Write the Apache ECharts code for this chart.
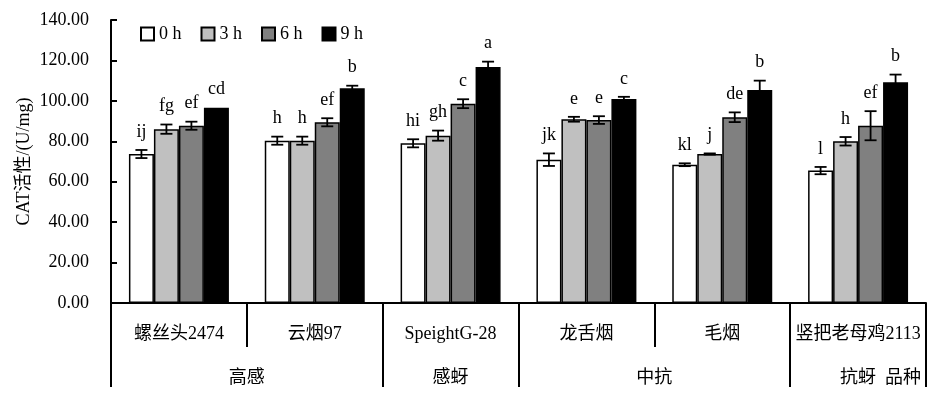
<!DOCTYPE html>
<html>
<head>
<meta charset="utf-8">
<script src="https://cdn.jsdelivr.net/npm/echarts@6/dist/echarts.min.js"></script>
<style>
  html, body { margin: 0; padding: 0; background: #fff; }
  #chart { width: 936px; height: 399px; }
</style>
</head>
<body>
<div id="chart"></div>
<script>
var categories = ['螺丝头2474', '云烟97', 'SpeightG-28', '龙舌烟', '毛烟', '竖把老母鸡2113']
var groupNames = ['高感', '感蚜', '中抗', '抗蚜', '品种']
var groupPos = [1, 2.5, 4, 5.5, 5.83]
var seriesNames = ['0 h', '3 h', '6 h', '9 h']
var yTicks = [0, 140, 20]

var h0 = [73.7, 80.3, 79.0, 70.9, 68.4, 65.5]
var h3 = [86.0, 80.3, 82.8, 90.9, 73.7, 80.0]
var h6 = [87.7, 89.4, 98.6, 90.5, 91.9, 87.7]
var h9 = [96.6, 106.2, 116.8, 100.9, 105.4, 109.2]

var err0 = [2.0, 2.0, 2.0, 3.1, 0.7, 1.8]
var err3 = [2.3, 2.0, 2.5, 1.2, 0.3, 2.1]
var err6 = [2.0, 2.0, 2.2, 1.9, 2.4, 7.2]
var err9 = [0, 1.3, 2.6, 1.1, 4.6, 3.8]

var letters0 = ['ij', 'h', 'hi', 'jk', 'kl', 'l']
var letters3 = ['fg', 'h', 'gh', 'e', 'j', 'h']
var letters6 = ['ef', 'ef', 'c', 'e', 'de', 'ef']
var letters9 = ['cd', 'b', 'a', 'c', 'b', 'b']

var values = [h0, h3, h6, h9]
var errors = [err0, err3, err6, err9]
var letters = [letters0, letters3, letters6, letters9]
var fills = ['#ffffff', '#c0c0c0', '#808080', '#000000']

var SERIF = '"Times New Roman", "Liberation Serif", "Noto Sans CJK SC", serif'
var BAR_FRAC = 0.184

var chart = echarts.init(document.getElementById('chart'))

var series = []
seriesNames.forEach(function (name, i) {
  series.push({
    name: name,
    type: 'bar',
    barWidth: (BAR_FRAC * 100) + '%',
    barGap: '0%',
    itemStyle: { color: fills[i], borderColor: '#000', borderWidth: 1.5 },
    data: values[i]
  })
})
seriesNames.forEach(function (name, i) {
  series.push({
    name: 'err' + i,
    type: 'custom',
    z: 5,
    data: values[i].map(function (v, k) { return [k, v, errors[i][k]] }),
    renderItem: function (params, api) {
      var x = api.value(0)
      var v = api.value(1)
      var e = api.value(2)
      var band = api.size([1, 0])[0]
      var off = (i - 1.5) * band * BAR_FRAC
      var top = api.coord([x, v + e])
      var bot = api.coord([x, v - e])
      var cx = top[0] + off
      var style = { stroke: '#000', lineWidth: 1.8 }
      var kids = []
      if (e > 0) {
        kids.push(
          { type: 'line', shape: { x1: cx, y1: top[1], x2: cx, y2: bot[1] }, style: style },
          { type: 'line', shape: { x1: cx - 6, y1: top[1], x2: cx + 6, y2: top[1] }, style: style },
          { type: 'line', shape: { x1: cx - 6, y1: bot[1], x2: cx + 6, y2: bot[1] }, style: style }
        )
      }
      kids.push({
        type: 'text',
        style: {
          x: cx, y: top[1] - 9,
          text: letters[i][params.dataIndex],
          align: 'center', verticalAlign: 'bottom',
          font: '18px ' + SERIF, fill: '#000'
        }
      })
      return { type: 'group', children: kids }
    }
  })
})

chart.setOption({
  animation: false,
  grid: { left: 111, right: 10, top: 20, bottom: 96, containLabel: false, outerBoundsMode: 'none' },
  legend: {
    data: seriesNames,
    left: 135, top: 20,
    itemWidth: 13, itemHeight: 13, itemGap: 19,
    icon: 'rect',
    textStyle: { fontFamily: SERIF, fontSize: 18, color: '#000' }
  },
  xAxis: [
    {
      type: 'category',
      data: categories,
      axisLine: { lineStyle: { color: '#000', width: 2 } },
      axisTick: { inside: true, length: 7, lineStyle: { color: '#000', width: 2 } },
      axisLabel: { margin: 22, color: '#000', fontSize: 18, fontFamily: SERIF, interval: 0 }
    },
    {
      type: 'value', min: 0, max: 6, position: 'bottom',
      axisLine: { show: false },
      splitLine: { show: false },
      axisTick: { show: true, customValues: [1, 4], length: 44, lineStyle: { color: '#000', width: 2 } },
      axisLabel: { show: false }
    },
    {
      type: 'value', min: 0, max: 6, position: 'bottom',
      axisLine: { show: false },
      splitLine: { show: false },
      axisTick: { show: true, customValues: [0, 2, 3, 5, 6], length: 84, lineStyle: { color: '#000', width: 2 } },
      axisLabel: {
        show: true, customValues: groupPos, margin: 66,
        color: '#000', fontSize: 18, fontFamily: SERIF,
        formatter: function (v) {
          var k = groupPos.indexOf(v)
          return k >= 0 ? groupNames[k] : ''
        }
      }
    }
  ],
  yAxis: {
    type: 'value',
    min: yTicks[0], max: yTicks[1], interval: yTicks[2],
    name: 'CAT活性/(U/mg)',
    nameLocation: 'middle', nameRotate: 90, nameGap: 78,
    nameMoveOverlap: false,
    nameTextStyle: { color: '#000', fontSize: 18, fontFamily: SERIF },
    axisLine: { show: true, lineStyle: { color: '#000', width: 2 } },
    axisTick: { show: true, inside: true, length: 6, lineStyle: { color: '#000', width: 2 } },
    splitLine: { show: false },
    axisLabel: {
      margin: 22, color: '#000', fontSize: 18, fontFamily: SERIF,
      formatter: function (v) { return v.toFixed(2) }
    }
  },
  series: series
})
</script>
</body>
</html>
